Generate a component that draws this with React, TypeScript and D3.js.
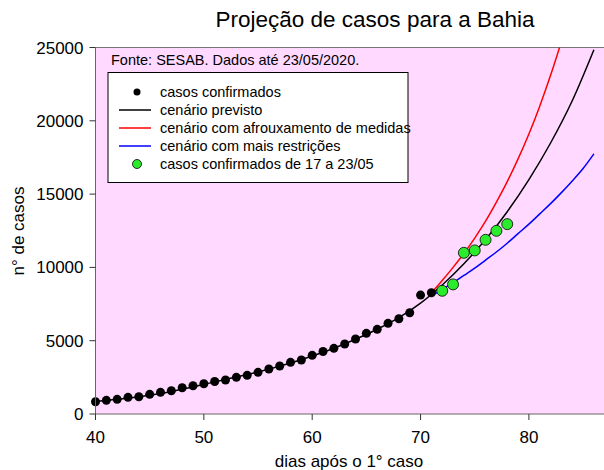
import React from 'react';
import * as d3 from 'd3';

// dias após o 1° caso / nº de casos
const confirmedDays = [40, 41, 42, 43, 44, 45, 46, 47, 48, 49, 50, 51, 52, 53, 54, 55,
  56, 57, 58, 59, 60, 61, 62, 63, 64, 65, 66, 67, 68, 69, 70, 71];
const confirmedCases = [836, 934, 1002, 1138, 1179, 1343, 1479, 1588, 1792, 1929, 2065, 2215,
  2318, 2502, 2638, 2843, 3067, 3272, 3524, 3681, 4001, 4260, 4479, 4772, 5113, 5501, 5774,
  6183, 6496, 6905, 8112, 8269];

const recentDays = [72, 73, 74, 75, 76, 77, 78];
const recentCases = [8405, 8841, 10995, 11159, 11882, 12495, 12952];

const previstoDays = [40, 42, 44, 46, 48, 50, 52, 54, 56, 58, 60, 62, 64, 66, 68, 70, 72, 74,
  76, 78, 80, 82, 84, 86];
const previstoCases = [850, 1000, 1170, 1400, 1690, 2020, 2360, 2690, 3060, 3480, 3960, 4490,
  5100, 5780, 6570, 7560, 8800, 10250, 11900, 13800, 15990, 18485, 21369, 24850];

const afrouxDays = [71, 72, 73, 74, 75, 76, 77, 78, 79, 80, 81, 82, 83];
const afrouxCases = [8250, 9100, 10000, 10950, 12000, 13150, 14450, 15850, 17400, 19100,
  21000, 23100, 25400];

const restricDays = [71, 72, 73, 74, 75, 76, 77, 78, 79, 80, 81, 82, 83, 84, 85, 86];
const restricCases = [8050, 8500, 8950, 9450, 9950, 10500, 11050, 11650, 12300, 12950, 13650,
  14350, 15100, 15900, 16750, 17750];

const xTicks = [40, 50, 60, 70, 80];
const yTicks = [0, 5000, 10000, 15000, 20000, 25000];

const legendItems = [
  { label: 'casos confirmados', kind: 'dot', color: '#000' },
  { label: 'cenário previsto', kind: 'line', color: '#000' },
  { label: 'cenário com afrouxamento de medidas', kind: 'line', color: '#ff0000' },
  { label: 'cenário com mais restrições', kind: 'line', color: '#0000ff' },
  { label: 'casos confirmados de 17 a 23/05', kind: 'green', color: '#2ceb2c' },
];

const W = 604;
const H = 470;
const left = 95.5;
const top = 47.5;
const bottom = 414;
const font = '"Liberation Sans", Arial, sans-serif';

export default function App() {
  const x = d3.scaleLinear().domain([40, 88]).range([left, left + 48 * 10.835]);
  const y = d3.scaleLinear().domain([0, 25000]).range([bottom, top]);

  const line = d3
    .line<[number, number]>()
    .x(d => x(d[0]))
    .y(d => y(d[1]))
    .curve(d3.curveMonotoneX);

  const zip = (a: number[], b: number[]) => a.map((v, i) => [v, b[i]] as [number, number]);

  return (
    <svg width={W} height={H} style={{ position: 'absolute', left: 0, top: 0, background: '#fff' }}
      fontFamily={font}>
      <defs>
        <clipPath id="plot">
          <rect x={left} y={top} width={W - left} height={bottom - top} />
        </clipPath>
      </defs>

      <text x={375} y={27} textAnchor="middle" fontSize={22.5}>Projeção de casos para a Bahia</text>

      <rect x={left} y={top} width={W - left} height={bottom - top} fill="#ffd9ff" />
      <line x1={left} x2={W} y1={top} y2={top} stroke="#777" />

      <g clipPath="url(#plot)">
        <path d={line(zip(previstoDays, previstoCases)) || ''} fill="none" stroke="#000" strokeWidth={1.5} />
        <path d={line(zip(afrouxDays, afrouxCases)) || ''} fill="none" stroke="#ff0000" strokeWidth={1.5} />
        <path d={line(zip(restricDays, restricCases)) || ''} fill="none" stroke="#0000ff" strokeWidth={1.5} />
      </g>

      {confirmedDays.map((d, i) => (
        <circle key={'c' + d} cx={x(d)} cy={y(confirmedCases[i])} r={4.5} fill="#000" />
      ))}
      {recentDays.map((d, i) => (
        <circle key={'g' + d} cx={x(d)} cy={y(recentCases[i])} r={5.5} fill="#2ceb2c" stroke="#000" strokeWidth={0.8} />
      ))}

      {/* axes */}
      <line x1={left} x2={left} y1={top} y2={bottom} stroke="#666" />
      <line x1={left} x2={W} y1={bottom} y2={bottom} stroke="#666" />
      {xTicks.map(t => (
        <g key={'x' + t}>
          <line x1={x(t)} x2={x(t)} y1={bottom} y2={bottom + 6} stroke="#333" />
          <text x={x(t)} y={443} textAnchor="middle" fontSize={17}>{t}</text>
        </g>
      ))}
      {yTicks.map(t => (
        <g key={'y' + t}>
          <line x1={left - 6} x2={left} y1={y(t)} y2={y(t)} stroke="#333" />
          <text x={left - 12} y={y(t) + 6} textAnchor="end" fontSize={17}>{t}</text>
        </g>
      ))}
      <text x={349} y={467} textAnchor="middle" fontSize={17}>dias após o 1° caso</text>
      <text transform="translate(24,231) rotate(-90)" textAnchor="middle" fontSize={17}>n° de casos</text>

      {/* legend */}
      <text x={111} y={65} fontSize={14.5}>Fonte: SESAB. Dados até 23/05/2020.</text>
      <rect x={108} y={72.5} width={300} height={110} fill="#fff" stroke="#000" />
      {legendItems.map((it, i) => {
        const ly = 92 + i * 18;
        return (
          <g key={it.label}>
            {it.kind === 'line' ? (
              <line x1={119} x2={151} y1={ly} y2={ly} stroke={it.color} strokeWidth={1.5} />
            ) : it.kind === 'dot' ? (
              <circle cx={137} cy={ly} r={3.5} fill="#000" />
            ) : (
              <circle cx={137} cy={ly} r={4.5} fill={it.color} stroke="#000" strokeWidth={0.8} />
            )}
            <text x={160} y={ly + 5} fontSize={14.5}>{it.label}</text>
          </g>
        );
      })}
    </svg>
  );
}
